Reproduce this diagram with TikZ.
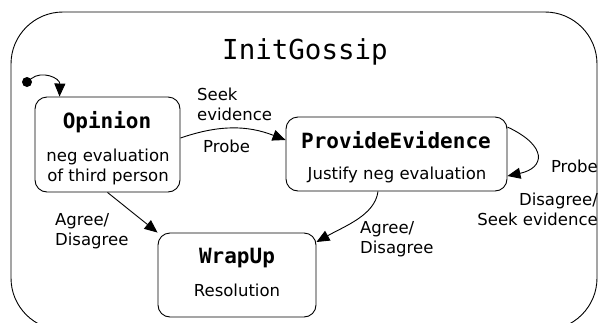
\documentclass[tikz,border=0pt]{standalone}
\usepackage{fontspec}
\setmainfont{DejaVu Sans}
\setmonofont{DejaVu Sans Mono}
\usetikzlibrary{arrows.meta,positioning}
\tikzstyle{state} = [rectangle, rounded corners=12pt, draw=black, line width=0.9pt, inner sep=0pt]
\tikzstyle{statename} = [inner sep=0pt, anchor=base, font=\fontsize{21}{24}\selectfont\ttfamily\bfseries]
\tikzstyle{statetext} = [inner sep=0pt, align=center, font=\fontsize{16.5}{20}\selectfont]
\tikzstyle{arrow} = [line width=0.9pt, -{Triangle[length=13pt,width=11pt]}]
\tikzstyle{lbl} = [inner sep=0pt, font=\fontsize{16.5}{20}\selectfont]

\begin{document}
\begin{tikzpicture}[x=1pt, y=-1pt]
    \useasboundingbox (0,0) rectangle (598,322);
    % Outer state
    \draw[line width=0.9pt, rounded corners=52pt] (11,12) rectangle (597,330);
    \node[font=\fontsize{27.5}{30}\selectfont\ttfamily] (title) at (305,52) {InitGossip};

    % Nodes
    \node[circle, fill=black, inner sep=0pt, minimum size=10pt] (init) at (27,82) {};
    \node[state, minimum width=145pt, minimum height=95pt] (opinion) at (107.5,144.5) {};
    \node[statename] (opinionname) at (107,128) {Opinion};
    \node[statetext] (opiniontext) at (108,167) {neg evaluation\\of third person};

    \node[state, minimum width=221pt, minimum height=74pt] (evidence) at (396.5,154) {};
    \node[statename] (evidencename) at (396,148) {ProvideEvidence};
    \node[statetext] (evidencetext) at (397,175) {Justify neg evaluation};

    \node[state, minimum width=158pt, minimum height=84pt] (wrapup) at (237,275) {};
    \node[statename] (wrapupname) at (237,263) {WrapUp};
    \node[statetext] (wrapuptext) at (237,290) {Resolution};

    % Arrows
    \draw[arrow] (init) .. controls (42,70) and (60,78) .. ([xshift=25pt]opinion.north west);
    \draw[arrow] ([yshift=6.5pt]opinion.east) to[bend left=20] ([yshift=14pt]evidence.west);
    \draw[arrow] (opinion.south) -- (wrapup.north west);
    \draw[arrow] ([xshift=-18.5pt]evidence.south) .. controls (375,215) and (345,226) .. ([yshift=33pt]wrapup.east);
    \draw[arrow] ([yshift=27pt]evidence.east) .. controls (548,146) and (545,168) .. ([yshift=-22pt]evidence.east);

    % Labels
    \node[lbl, align=left, anchor=west] (seek) at (197,104) {Seek\\evidence};
    \node[lbl, anchor=west] (probe) at (203,146) {Probe};
    \node[lbl, align=left, anchor=west] (agree1) at (55,231) {Agree/\\Disagree};
    \node[lbl, align=left, anchor=west] (agree2) at (360,239) {Agree/\\Disagree};
    \node[lbl, anchor=east] (probe2) at (598,166) {Probe};
    \node[lbl, align=right, anchor=east] (disagree) at (598,209) {Disagree/\\Seek evidence};
\end{tikzpicture}
\end{document}
